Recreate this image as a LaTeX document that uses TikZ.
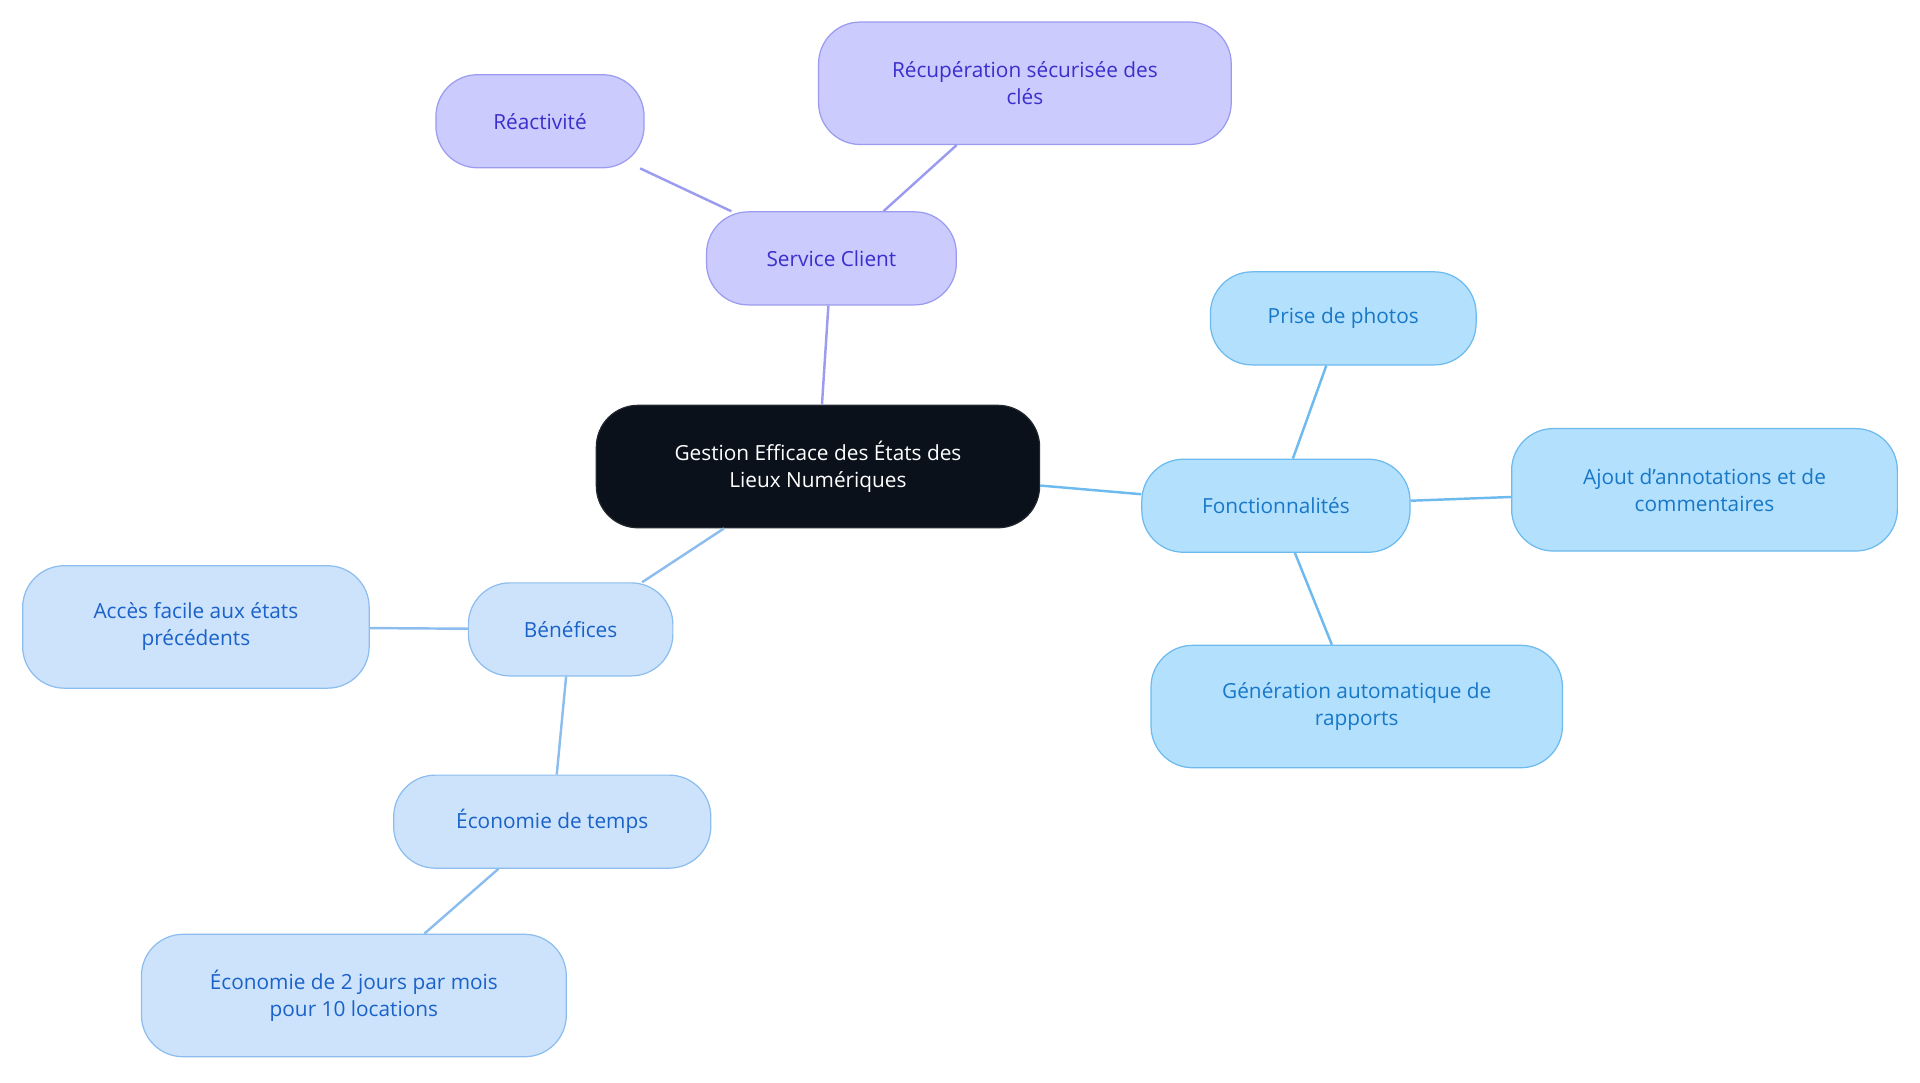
\documentclass[tikz,border=0pt]{standalone}
\usepackage{fontspec}
\setmainfont{Open Sans}
\begin{document}
\begin{tikzpicture}[x=1pt,y=-1pt,
 box/.style={draw,line width=1pt,rounded corners=34pt,align=center,inner sep=0pt,font=\fontsize{17}{22}\selectfont},
 root/.style={box,fill=rootc,draw=rootc!80!gray,text=white},
 pur/.style={box,fill=purf,draw=purd,text=purt},
 blu/.style={box,fill=bluf,draw=blud,text=blut},
 lbl/.style={box,fill=lblf,draw=lbld,text=lblt},
 ep/.style={draw=purd,line width=2pt},
 eb/.style={draw=blud,line width=2pt},
 el/.style={draw=lbld,line width=2pt}]
\definecolor{rootc}{HTML}{0B111B}
\definecolor{purf}{HTML}{CBCBFD}\definecolor{purd}{HTML}{9B9BF0}\definecolor{purt}{HTML}{3A2FCB}
\definecolor{bluf}{HTML}{B3E0FD}\definecolor{blud}{HTML}{6CBAEE}\definecolor{blut}{HTML}{1878C8}
\definecolor{lblf}{HTML}{CCE3FB}\definecolor{lbld}{HTML}{8CBDEE}\definecolor{lblt}{HTML}{1A62C8}
\useasboundingbox (0,0) rectangle (1568,884);
\node[root,minimum width=362pt,minimum height=100pt] (r) at (668,381) {Gestion Efficace des États des\\Lieux Numériques};
\node[pur,minimum width=204pt,minimum height=76pt] (sc) at (679,211) {Service Client};
\node[pur,minimum width=170pt,minimum height=76pt] (re) at (441,99) {Réactivité};
\node[pur,minimum width=337pt,minimum height=100pt] (rc) at (837,68) {Récupération sécurisée des\\clés};
\node[blu,minimum width=219pt,minimum height=76pt] (f) at (1042,413) {Fonctionnalités};
\node[blu,minimum width=217pt,minimum height=76pt] (p) at (1097,260) {Prise de photos};
\node[blu,minimum width=315pt,minimum height=100pt] (a) at (1392,400) {Ajout d'annotations et de\\commentaires};
\node[blu,minimum width=336pt,minimum height=100pt] (g) at (1108,577) {Génération automatique de\\rapports};
\node[lbl,minimum width=167pt,minimum height=76pt] (b) at (466,514) {Bénéfices};
\node[lbl,minimum width=283pt,minimum height=100pt] (ac) at (160,512) {Accès facile aux états\\précédents};
\node[lbl,minimum width=259pt,minimum height=76pt] (et) at (451,671) {Économie de temps};
\node[lbl,minimum width=347pt,minimum height=100pt] (ej) at (289,813) {Économie de 2 jours par mois\\pour 10 locations};
\begin{scope}[on background layer/.try]
\end{scope}
\path[ep] (r) -- (sc); \path[ep] (sc) -- (re); \path[ep] (sc) -- (rc);
\path[eb] (r) -- (f); \path[eb] (f) -- (p); \path[eb] (f) -- (a); \path[eb] (f) -- (g);
\path[el] (r) -- (b); \path[el] (b) -- (ac); \path[el] (b) -- (et); \path[el] (et) -- (ej);
\end{tikzpicture}
\end{document}
